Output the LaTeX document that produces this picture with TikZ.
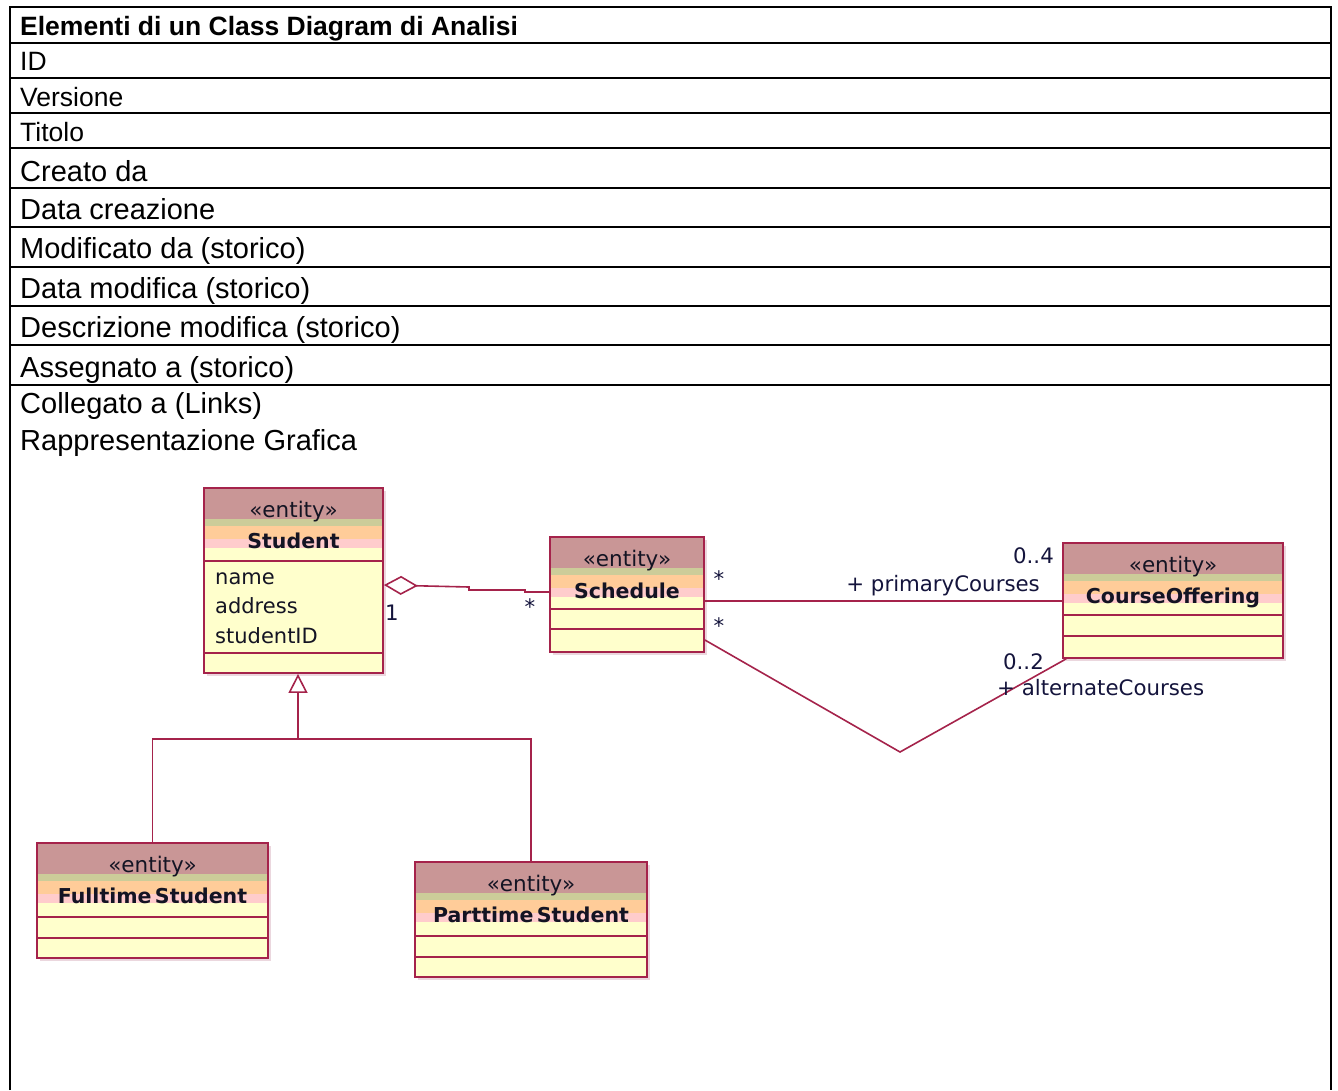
\documentclass[tikz,border=0pt]{standalone}
\usepackage{fontspec}
\setmainfont{Liberation Sans}
\newfontfamily\umlfont{DejaVu Sans}
\usetikzlibrary{arrows.meta,fit}
\definecolor{cbrown}{RGB}{201,150,150}
\definecolor{cgreen}{RGB}{204,204,153}
\definecolor{corange}{RGB}{255,204,153}
\definecolor{cpink}{RGB}{255,204,204}
\definecolor{cyellow}{RGB}{255,255,204}
\definecolor{umlred}{RGB}{165,35,75}
\definecolor{shadowc}{RGB}{235,215,222}
\definecolor{txt}{RGB}{20,20,35}
\definecolor{lbltxt}{RGB}{20,20,60}
\tikzset{
  tline/.style={line width=2.5pt, black},
  tsmall/.style={anchor=base west, inner sep=0, font=\fontsize{26.5}{30}\selectfont},
  tbig/.style={anchor=base west, inner sep=0, font=\fontsize{29}{33}\selectfont},
  ttitle/.style={anchor=base west, inner sep=0, font=\bfseries\fontsize{26.5}{30}\selectfont},
  uml/.style={draw=umlred, line width=1.8pt},
  conn/.style={draw=umlred, line width=1.6pt},
  stereo/.style={anchor=base, inner sep=0, font=\umlfont\fontsize{21.5}{24}\selectfont, text=txt},
  cname/.style={anchor=base, inner sep=0, font=\umlfont\bfseries\fontsize{20.5}{24}\selectfont, text=txt},
  attr/.style={anchor=base west, inner sep=0, font=\umlfont\fontsize{21}{24}\selectfont, text=txt},
  lbl/.style={inner sep=0, font=\umlfont\fontsize{21.3}{24}\selectfont, text=lbltxt},
}
% #1 id, #2 x1, #3 ytop, #4 x2, #5 ybottom, #6 first compartment line, #7 second compartment line
\newcommand\umlbox[7]{%
  \fill[shadowc] (#2+3,#3+3) rectangle (#4+3,#5+3);
  \fill[cyellow] (#2,#3) rectangle (#4,#5);
  \fill[cbrown] (#2,#3) rectangle (#4,#3+31);
  \fill[cgreen] (#2,#3+31) rectangle (#4,#3+38);
  \fill[corange] (#2,#3+38) rectangle (#4,#3+51);
  \fill[cpink] (#2,#3+51) rectangle (#4,#3+60);
  \draw[uml] (#2,#6) -- (#4,#6) (#2,#7) -- (#4,#7);
  \node[fit={(#2,#3) (#4,#5)}, inner sep=0, uml, rectangle] (#1) {};
  \node[stereo] (#1st) at ({(#2+#4)/2},#3+29.5) {«entity»};
}
\begin{document}
\begin{tikzpicture}[x=1pt,y=-1pt]
\useasboundingbox (0,0) rectangle (1338,1090);
\fill[white] (0,0) rectangle (1338,1090);
% table
\draw[tline] (10,1090) -- (10,7) -- (1331,7) -- (1331,1090);
\foreach \yy in {43,78,113,148,188,227,267,306,345,385}
  \draw[tline] (10,\yy) -- (1331,\yy);
\node[ttitle] (r0) at (20,35) {Elementi di un Class Diagram di Analisi};
\node[tsmall] (r1) at (20,70) {ID};
\node[tsmall] (r2) at (20,106) {Versione};
\node[tsmall] (r3) at (20,141) {Titolo};
\node[tbig] (r4) at (20,181) {Creato da};
\node[tbig] (r5) at (20,219) {Data creazione};
\node[tbig] (r6) at (20,258) {Modificato da (storico)};
\node[tbig] (r7) at (20,298) {Data modifica (storico)};
\node[tbig] (r8) at (20,337) {Descrizione modifica (storico)};
\node[tbig] (r9) at (20,377) {Assegnato a (storico)};
\node[tbig] (r10) at (20,413) {Collegato a (Links)};
\node[tbig] (r11) at (20,450) {Rappresentazione Grafica};

% classes
\umlbox{stu}{204}{488}{383}{673}{561}{653}
\node[cname] (stuname) at (293.5,548) {Student};
\node[attr] (a1) at (215,584) {name};
\node[attr] (a2) at (215,613) {address};
\node[attr] (a3) at (215,643) {studentID};

\umlbox{sch}{550}{537}{704}{652}{609}{629}
\node[cname] (schname) at (627,598) {Schedule};

\umlbox{co}{1063}{543}{1283}{658}{615}{636}
\node[cname] (coname) at (1173,603) {CourseOffering};

\umlbox{ful}{37}{843}{268}{958}{917}{938}
\node[cname] (fulname) at (152.5,903) {Fulltime\,Student};

\umlbox{par}{415}{862}{647}{977}{936}{957}
\node[cname] (parname) at (531,922) {Parttime\,Student};

% aggregation Student <>-- Schedule
\draw[conn, {Diamond[open, length=34pt, width=19pt, line width=1.6pt]}-]
  ([yshift=-4.5pt]stu.east) -- (469,587) -- (469,590) -- (525,590) -- (525,592) -- (sch.west |- 0,592);
\node[lbl, anchor=base] (m1) at (392,620) {1};
\node[lbl] (m2) at (530,607) {*};

% generalization
\coordinate (hub) at (298,739);
\draw[conn, -{Triangle[open, length=19pt, width=19pt, line width=1.6pt]}] (hub) -- (hub |- stu.south);
\draw[conn] (ful.north) |- (hub) -| (par.north);

% primaryCourses
\draw[conn] (sch.east |- 0,601) -- (co.west |- 0,601);
\node[lbl] (m3) at (719,579) {*};
\node[lbl, anchor=base east] (m4) at (1054,563) {0..4};
\node[lbl, anchor=base east] (m5) at (1040,591) {+ primaryCourses};

% alternateCourses
\coordinate (vee) at (900,752);
\draw[conn] (sch.east |- 0,640) -- (vee) -- ([xshift=4pt]co.south west);
\node[lbl] (m6) at (719,626) {*};
\node[lbl, anchor=base east] (m7) at (1044,669) {0..2};
\node[lbl, anchor=base west] (m8) at (997,695) {+ alternateCourses};
\end{tikzpicture}
\end{document}
